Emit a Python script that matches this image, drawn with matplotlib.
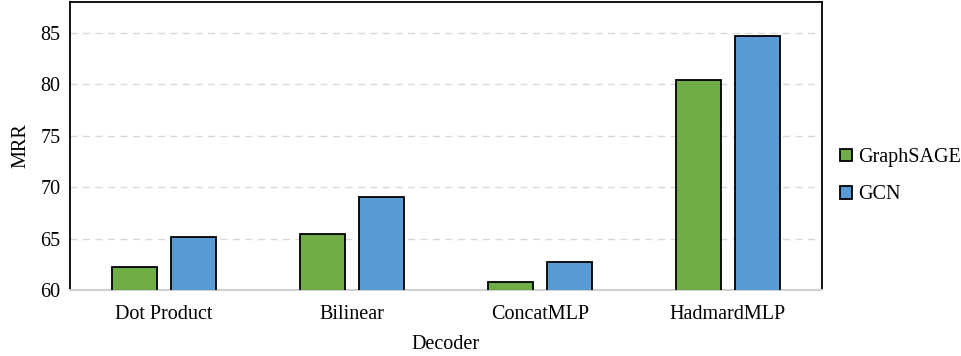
import numpy as np
import matplotlib.pyplot as plt

plt.rcParams['font.family'] = ['Liberation Serif', 'DejaVu Serif']

decoders = ['Dot Product', 'Bilinear', 'ConcatMLP', 'HadmardMLP']
graphsage = [62.2, 65.4, 60.8, 80.4]
gcn = [65.2, 69.0, 62.7, 84.7]

x = np.arange(len(decoders))
w = 0.24
off = 0.155

fig = plt.figure(figsize=(9.61, 3.56), dpi=100)
ax = fig.add_axes([70/961, 1 - 290/356, 752/961, 288/356])

ax.bar(x - off, graphsage, w, color='#70AD47', edgecolor='black', linewidth=1.3, label='GraphSAGE', zorder=3)
ax.bar(x + off, gcn, w, color='#5B9BD5', edgecolor='black', linewidth=1.3, label='GCN', zorder=3)

ax.set_xlim(-0.5, len(decoders) - 0.5)
ax.set_ylim(60, 88)
ax.set_yticks([60, 65, 70, 75, 80, 85])
ax.set_xticks(x)
ax.set_xticklabels(decoders)
ax.tick_params(axis='both', length=0, labelsize=14.5)
ax.tick_params(axis='x', pad=11)
ax.tick_params(axis='y', pad=7)
ax.yaxis.grid(True, linestyle=(0, (5, 4)), color='#d9d9d9', linewidth=1, zorder=0)

for s in ['left', 'top', 'right']:
    ax.spines[s].set_color('black')
    ax.spines[s].set_linewidth(1.3)
ax.spines['bottom'].set_color('#d0d0d0')
ax.spines['bottom'].set_linewidth(1.5)

ax.set_xlabel('Decoder', fontsize=14.5, labelpad=8)
ax.set_ylabel('MRR', fontsize=14.5, labelpad=7)

ax.legend(loc='center left', bbox_to_anchor=(1.0, 0.395), frameon=False, fontsize=14.5,
          handlelength=0.6, handleheight=0.6, handletextpad=0.3, labelspacing=0.9)

fig.savefig('out.png', dpi=100)
